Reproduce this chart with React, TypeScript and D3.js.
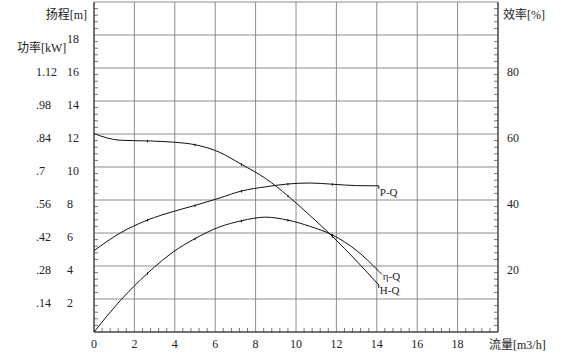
import React from "react";
import { scaleLinear, line, curveMonotoneX, range } from "d3";

// flow points (m3/h)
const flow = [0, 1.3, 2.65, 4, 5.0, 6.2, 7.3, 8.5, 9.6, 10.7, 11.8, 13, 14.1];
const head = [12.02, 11.62, 11.58, 11.5, 11.35, 10.9, 10.16, 9.3, 8.25, 7.05, 5.8, 4.3, 2.85];
const power = [0.345, 0.42, 0.475, 0.513, 0.537, 0.568, 0.598, 0.616, 0.628, 0.632, 0.627, 0.621, 0.62];
const eff = [0, 9.5, 17.8, 24.6, 28.3, 31.8, 33.7, 34.8, 33.9, 32.0, 29.4, 24.7, 18.4];
const markIdx = [2, 4, 6, 8, 10];

const flowTicks = [0, 2, 4, 6, 8, 10, 12, 14, 16, 18];
const headTicks = [2, 4, 6, 8, 10, 12, 14, 16, 18];
const powerTicks = [".14", ".28", ".42", ".56", ".7", ".84", ".98", "1.12"];
const effTicks = [20, 40, 60, 80];

const W = 565;
const H = 363;
const left = 94;
const right = 498;
const top = 2;
const bottom = 332;

const font = "'Times New Roman', 'Liberation Serif', 'DejaVu Serif', 'Noto Sans CJK SC', serif";

export default function App() {
  const x = scaleLinear().domain([0, 20]).range([left, right]);
  const yH = scaleLinear().domain([0, 20]).range([bottom, top]);
  const yP = scaleLinear().domain([0, 1.4]).range([bottom, top]);
  const yE = scaleLinear().domain([0, 100]).range([bottom, top]);

  const mk = (vals: number[], y: (v: number) => number) =>
    line<number>()
      .x((_, i) => x(flow[i]))
      .y((v) => y(v))
      .curve(curveMonotoneX)(vals) || "";

  const series = [
    { vals: head, y: yH },
    { vals: power, y: yP },
    { vals: eff, y: yE },
  ];

  const last = flow.length - 1;
  const xe = x(flow[last]);

  const minor = range(0, 20.01, 0.4).filter((v) => Math.abs(v / 2 - Math.round(v / 2)) > 0.01);

  return (
    <svg width={W} height={H} style={{ position: "absolute", left: 0, top: 0, background: "#fff" }}>
      {/* grid */}
      <g stroke="#8c8c8c" strokeWidth={1}>
        {range(0, 21, 2).map((v) => (
          <line key={"gx" + v} x1={x(v)} x2={x(v)} y1={top} y2={bottom} />
        ))}
        {range(0, 21, 2).map((v) => (
          <line key={"gy" + v} x1={left} x2={right} y1={yH(v)} y2={yH(v)} />
        ))}
      </g>
      {/* minor ticks */}
      <g stroke="#777" strokeWidth={1}>
        {minor.map((v) => (
          <g key={"m" + v}>
            <line x1={left} x2={left + 4} y1={yH(v)} y2={yH(v)} />
            <line x1={right - 4} x2={right} y1={yH(v)} y2={yH(v)} />
            <line x1={x(v)} x2={x(v)} y1={bottom} y2={bottom - 4} />
          </g>
        ))}
      </g>
      {/* axes */}
      <g stroke="#222" strokeWidth={1}>
        <line x1={left} x2={left} y1={top} y2={bottom} />
        <line x1={right} x2={right} y1={top} y2={bottom} />
        <line x1={left} x2={right} y1={bottom} y2={bottom} />
      </g>
      {/* curves */}
      <g fill="none" stroke="#111" strokeWidth={1}>
        {series.map((s, i) => (
          <path key={i} d={mk(s.vals, s.y)} />
        ))}
        {/* small hooks leading into the curve labels */}
        <path d={`M${xe},${yP(power[last])} v3`} />
        <path d={`M${xe},${yE(eff[last])} l3,3`} />
        <path d={`M${xe},${yH(head[last])} v3`} />
      </g>
      <g stroke="#111" strokeWidth={1}>
        {series.map((s, i) =>
          markIdx.map((k) => (
            <line
              key={i + "-" + k}
              x1={x(flow[k])}
              x2={x(flow[k])}
              y1={s.y(s.vals[k]) - 1}
              y2={s.y(s.vals[k]) + 1.5}
            />
          ))
        )}
      </g>
      {/* labels */}
      <g fontFamily={font} fontSize={12} fill="#222">
        {headTicks.map((v) => (
          <text key={"h" + v} x={67} y={yH(v) + 8}>
            {v}
          </text>
        ))}
        {powerTicks.map((t, i) => (
          <text key={"p" + t} x={36} y={yP((i + 1) * 0.14) + 8}>
            {t}
          </text>
        ))}
        {effTicks.map((v) => (
          <text key={"e" + v} x={507} y={yE(v) + 8}>
            {v}
          </text>
        ))}
        {flowTicks.map((v) => (
          <text key={"f" + v} x={x(v)} y={bottom + 16} textAnchor="middle">
            {v}
          </text>
        ))}
        <text x={87} y={19} textAnchor="end">扬程[m]</text>
        <text x={17} y={52}>功率[kW]</text>
        <text x={503} y={19}>效率[%]</text>
        <text x={489} y={349}>流量[m3/h]</text>
      </g>
      <g fontFamily={font} fontSize={11} fill="#222">
        <text x={xe + 1} y={yP(power[last]) + 10}>P-Q</text>
        <text x={xe + 4} y={yE(eff[last]) + 9}>η-Q</text>
        <text x={xe + 1} y={yH(head[last]) + 9}>H-Q</text>
      </g>
    </svg>
  );
}
